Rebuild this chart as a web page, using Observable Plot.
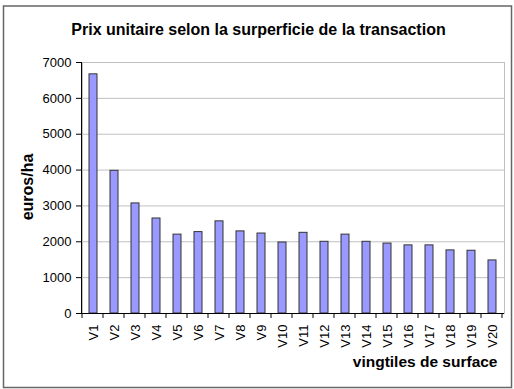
<!DOCTYPE html>
<html>
<head>
<meta charset="utf-8">
<script src="https://cdn.jsdelivr.net/npm/d3@7"></script>
<script src="https://cdn.jsdelivr.net/npm/@observablehq/plot@0.6"></script>
<style>
  body { margin: 0; background: #fff; }
  svg { display: block; }
</style>
</head>
<body>
<div id="chart"></div>
<script>
// Prix unitaire (euros/ha) par vingtile de surface
const vingtiles = ["V1", "V2", "V3", "V4", "V5", "V6", "V7", "V8", "V9", "V10",
                   "V11", "V12", "V13", "V14", "V15", "V16", "V17", "V18", "V19", "V20"];
const prixHa = [6670, 3980, 3070, 2650, 2200, 2270, 2570, 2290, 2230, 1980,
                2250, 2000, 2200, 2000, 1950, 1900, 1900, 1760, 1750, 1480];
const yTicks = [0, 1000, 2000, 3000, 4000, 5000, 6000, 7000];

const titre = "Prix unitaire selon la surperficie de la transaction";
const labelY = "euros/ha";
const labelX = "vingtiles de surface";

const data = vingtiles.map((v, i) => ({ v, prix: prixHa[i] }));
const font = "Arial, 'Liberation Sans', Helvetica, sans-serif";

const plot = Plot.plot({
  width: 514,
  height: 389,
  marginLeft: 82,
  marginRight: 10,
  marginTop: 62,
  marginBottom: 76,
  style: { fontFamily: font, fontSize: "13px", background: "#fff", color: "#000", overflow: "visible" },
  x: { domain: vingtiles, paddingInner: 0.6, paddingOuter: 0.3, axis: null },
  y: { domain: [0, 7000], axis: null },
  marks: [
    Plot.frame({ stroke: "#c0c0c0" }),
    Plot.gridY(yTicks, { stroke: "#c0c0c0", strokeOpacity: 1 }),
    Plot.barY(data, { x: "v", y: "prix", fill: "#9999ff", stroke: "#333", strokeWidth: 1 }),
    Plot.axisY(yTicks, { tickSize: 6, tickPadding: 5, tickFormat: d => String(d), fontSize: 13, label: null, stroke: "#000" }),
    Plot.axisX({ tickSize: 0, tickPadding: 11, tickRotate: -90, fontSize: 13, label: null }),
    Plot.ruleY([0], { stroke: "#000" }),
    Plot.text([titre], { frameAnchor: "top", lineAnchor: "middle", dx: -35, dy: -33, fontSize: 16, fontWeight: "bold" }),
    Plot.text([labelY], { frameAnchor: "left", textAnchor: "middle", lineAnchor: "middle", dx: -55, dy: -1, rotate: -90, fontSize: 16, fontWeight: "bold" }),
    Plot.text([labelX], { frameAnchor: "bottom-right", textAnchor: "end", lineAnchor: "middle", dx: -7, dy: 49, fontSize: 15.5, fontWeight: "bold" })
  ]
});

// Axe vertical et graduations entre les catégories, placés d'après les échelles
const svg = d3.select(plot);
const sx = plot.scale("x");
const sy = plot.scale("y");
const y0 = sy.apply(0);
const y1 = sy.apply(7000);
const x0 = sx.range[0];
const step = sx.step;
const gap = (step - sx.bandwidth) / 2;
const bounds = vingtiles.map(v => sx.apply(v) - gap);
bounds.push(bounds[bounds.length - 1] + step);

const g = svg.append("g").attr("stroke", "#000").attr("stroke-width", 1);
g.append("line").attr("x1", x0 - 0.5).attr("x2", x0 - 0.5).attr("y1", y1).attr("y2", y0 + 0.5);
g.selectAll(".tk").data(bounds).join("line")
  .attr("x1", d => d - 0.5).attr("x2", d => d - 0.5)
  .attr("y1", y0).attr("y2", y0 + 5);

// Cadre du graphique
svg.append("rect")
  .attr("x", 3.5).attr("y", 6).attr("width", 508).attr("height", 381.5)
  .attr("fill", "none").attr("stroke", "#666").attr("stroke-width", 1.5);

document.getElementById("chart").appendChild(plot);
</script>
</body>
</html>
